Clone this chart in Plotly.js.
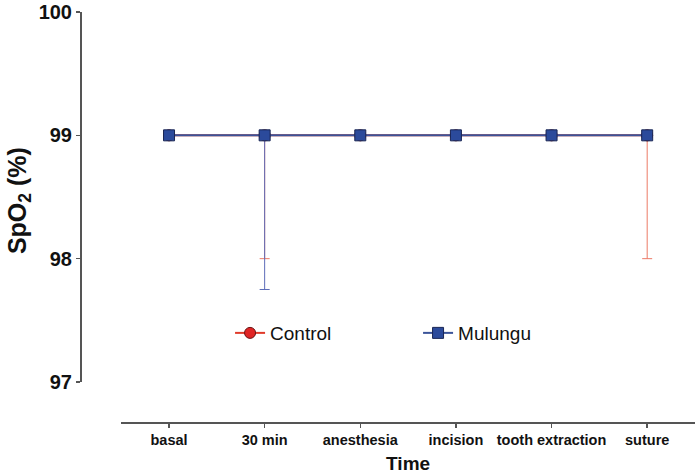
<!DOCTYPE html>
<html>
<head>
<meta charset="utf-8">
<script src="https://cdn.plot.ly/plotly-3.0.1.min.js"></script>
<style>html,body{margin:0;padding:0;background:#fff;}#chart{width:697px;height:474px;}</style>
</head>
<body>
<div id="chart"></div>
<script>
const categories = ["basal", "30 min", "anesthesia", "incision", "tooth extraction", "suture"];
const controlMean = [99, 99, 99, 99, 99, 99];
const controlErrMinus = [0, 1, 0, 0, 0, 1];
const mulunguMean = [99, 99, 99, 99, 99, 99];
const mulunguErrMinus = [0, 1.25, 0, 0, 0, 0];
const yTicks = [97, 98, 99, 100];

const FONT = "Arial, 'Liberation Sans', sans-serif";
const zeros = categories.map(() => 0);

const traces = [
  {
    name: "Control",
    x: categories.map((c, i) => i),
    y: controlMean,
    mode: "lines+markers",
    line: {color: "#e03a2a", width: 2},
    marker: {symbol: "circle", size: 11, color: "#e02424", line: {color: "#6a1010", width: 1}},
    error_y: {type: "data", symmetric: false, array: zeros, arrayminus: controlErrMinus,
              color: "#ec7a66", thickness: 1, width: 5}
  },
  {
    name: "Mulungu",
    x: categories.map((c, i) => i),
    y: mulunguMean,
    mode: "lines+markers",
    line: {color: "#3b5499", width: 2},
    marker: {symbol: "square", size: 11, color: "#2b4a9b", line: {color: "#1a2654", width: 1}},
    error_y: {type: "data", symmetric: false, array: zeros, arrayminus: mulunguErrMinus,
              color: "#5c6cb8", thickness: 1, width: 5}
  }
];

const layout = {
  width: 697, height: 474,
  margin: {l: 80, r: 2, t: 12, b: 52},
  paper_bgcolor: "#fff", plot_bgcolor: "#fff",
  showlegend: true,
  legend: {orientation: "h", x: 0.244, xanchor: "left", y: 0.217, yanchor: "middle",
           font: {family: FONT, size: 19, color: "#111"}, entrywidth: 143, itemwidth: 30,
           bgcolor: "rgba(0,0,0,0)"},
  xaxis: {
    domain: [0.067, 1], anchor: "free", position: 0,
    range: [-0.5, 5.5],
    tickmode: "array", tickvals: categories.map((c, i) => i), ticktext: categories,
    showgrid: false, zeroline: false,
    showline: true, linecolor: "#555", linewidth: 1.5,
    ticks: "outside", ticklen: 4, tickcolor: "#555", tickwidth: 1.5,
    tickfont: {family: FONT, size: 14.5, color: "#111", weight: "bold"},
    title: {text: "<b>Time</b>", font: {family: FONT, size: 19, color: "#111"}, standoff: 14}
  },
  yaxis: {
    domain: [0.0976, 1], anchor: "free", position: 0,
    range: [97, 100],
    tickmode: "array", tickvals: yTicks, ticktext: yTicks.map(String),
    showgrid: false, zeroline: false,
    showline: true, linecolor: "#555", linewidth: 1.5,
    ticks: "outside", ticklen: 4, tickcolor: "#555", tickwidth: 1.5,
    tickfont: {family: FONT, size: 20, color: "#111", weight: "bold"}
  },
  annotations: [{
    text: "<b>SpO<sub>2</sub> (%)</b>", xref: "paper", yref: "paper",
    x: -0.1, y: 0.54, xanchor: "center", yanchor: "middle",
    textangle: -90, showarrow: false,
    font: {family: FONT, size: 25, color: "#111"}
  }]
};

Plotly.newPlot("chart", traces, layout, {displayModeBar: false, staticPlot: true});
</script>
</body>
</html>
